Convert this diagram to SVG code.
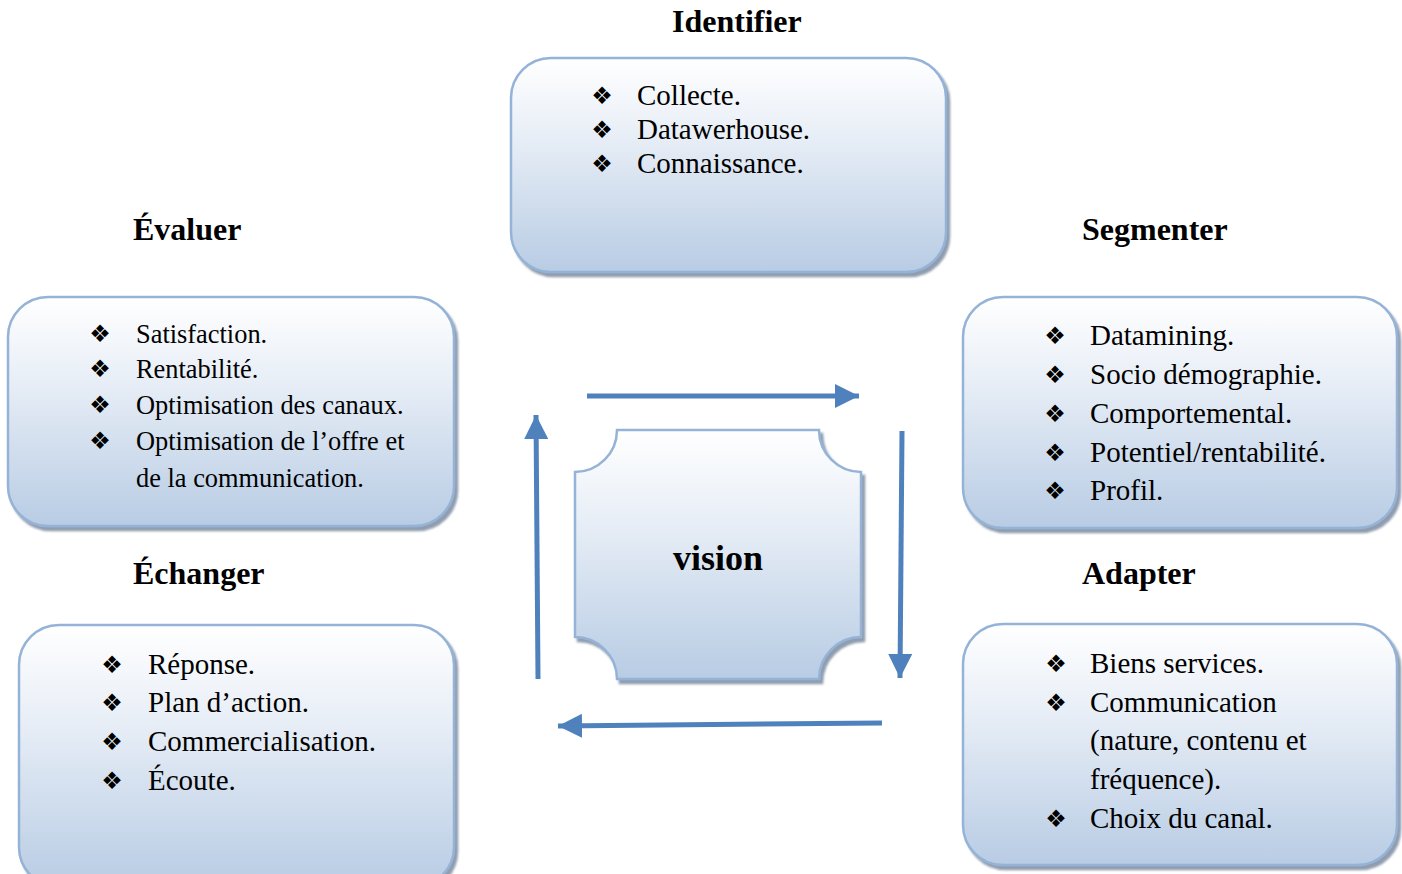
<svg xmlns="http://www.w3.org/2000/svg" width="1402" height="874" viewBox="0 0 1402 874">
<defs>
<linearGradient id="g" x1="0" y1="0" x2="0" y2="1">
<stop offset="0" stop-color="#ffffff"/>
<stop offset="0.35" stop-color="#e9eff7"/>
<stop offset="1" stop-color="#b8cce4"/>
</linearGradient>
<filter id="sh" x="-5%" y="-5%" width="115%" height="115%">
<feDropShadow dx="3" dy="4" stdDeviation="1.2" flood-color="#6b7d94" flood-opacity="0.75"/>
</filter>
<marker id="ah" markerUnits="userSpaceOnUse" markerWidth="24" markerHeight="24" viewBox="0 0 20 20" refX="20" refY="10" orient="auto">
<path d="M0,0 L20,10 L0,20 Z" fill="#4f81bd"/>
</marker>
</defs>
<style>
.box{fill:url(#g);stroke:#95b3d7;stroke-width:2.5;filter:url(#sh)}
.t{font-family:"Liberation Serif","Times New Roman",serif;fill:#000}
.title{font-size:32px;font-weight:bold}
.item{font-size:29px}
.small{font-size:26.4px}
.b{font-family:"DejaVu Sans",sans-serif;font-size:24px;text-anchor:middle;fill:#000}
.arr{stroke:#4f81bd;stroke-width:5;fill:none;marker-end:url(#ah)}
</style>
<rect width="1402" height="874" fill="#ffffff"/>

<g id="identifier">
<text class="t title" x="672" y="32">Identifier</text>
<rect class="box" x="511" y="58" width="435" height="214" rx="40" ry="40"/>
<text class="b" x="602" y="104">❖</text><text class="t item" x="637" y="105">Collecte.</text>
<text class="b" x="602" y="138">❖</text><text class="t item" x="637" y="139">Datawerhouse.</text>
<text class="b" x="602" y="172">❖</text><text class="t item" x="637" y="173">Connaissance.</text>
</g>

<g id="evaluer">
<text class="t title" x="133" y="240">Évaluer</text>
<rect class="box" x="8" y="297" width="446" height="229" rx="40" ry="40"/>
<text class="b" x="100" y="342">❖</text><text class="t small" x="136" y="343">Satisfaction.</text>
<text class="b" x="100" y="377">❖</text><text class="t small" x="136" y="378">Rentabilité.</text>
<text class="b" x="100" y="413">❖</text><text class="t small" x="136" y="414">Optimisation des canaux.</text>
<text class="b" x="100" y="449">❖</text><text class="t small" x="136" y="450">Optimisation de l’offre et</text>
<text class="t small" x="136" y="487">de la communication.</text>
</g>

<g id="segmenter">
<text class="t title" x="1082" y="240">Segmenter</text>
<rect class="box" x="963" y="297" width="434" height="231" rx="40" ry="40"/>
<text class="b" x="1055" y="344">❖</text><text class="t item" x="1090" y="345">Datamining.</text>
<text class="b" x="1055" y="383">❖</text><text class="t item" x="1090" y="384">Socio démographie.</text>
<text class="b" x="1055" y="422">❖</text><text class="t item" x="1090" y="423">Comportemental.</text>
<text class="b" x="1055" y="461">❖</text><text class="t item" x="1090" y="462">Potentiel/rentabilité.</text>
<text class="b" x="1055" y="499">❖</text><text class="t item" x="1090" y="500">Profil.</text>
</g>

<g id="echanger">
<text class="t title" x="133" y="584">Échanger</text>
<rect class="box" x="19" y="625" width="435" height="262" rx="40" ry="40"/>
<text class="b" x="112" y="673">❖</text><text class="t item" x="148" y="674">Réponse.</text>
<text class="b" x="112" y="711">❖</text><text class="t item" x="148" y="712">Plan d’action.</text>
<text class="b" x="112" y="750">❖</text><text class="t item" x="148" y="751">Commercialisation.</text>
<text class="b" x="112" y="789">❖</text><text class="t item" x="148" y="790">Écoute.</text>
</g>

<g id="adapter">
<text class="t title" x="1082" y="584">Adapter</text>
<rect class="box" x="963" y="624" width="434" height="241" rx="40" ry="40"/>
<text class="b" x="1056" y="672">❖</text><text class="t item" x="1090" y="673">Biens services.</text>
<text class="b" x="1056" y="711">❖</text><text class="t item" x="1090" y="712">Communication</text>
<text class="t item" x="1090" y="750">(nature, contenu et</text>
<text class="t item" x="1090" y="789">fréquence).</text>
<text class="b" x="1056" y="827">❖</text><text class="t item" x="1090" y="828">Choix du canal.</text>
</g>

<g id="vision">
<path class="box" d="M617,430 H819 A42,42 0 0 0 861,472 V637 A42,42 0 0 0 819,679 H617 A42,42 0 0 0 575,637 V472 A42,42 0 0 0 617,430 Z"/>
<text class="t" x="718" y="570" font-size="36" font-weight="bold" text-anchor="middle">vision</text>
</g>

<g id="connectors">
<line class="arr" x1="587" y1="396" x2="859" y2="396"/>
<line class="arr" x1="902" y1="431" x2="900" y2="678"/>
<line class="arr" x1="882" y1="723" x2="558" y2="726"/>
<line class="arr" x1="538" y1="679" x2="536" y2="415"/>
</g>
</svg>
